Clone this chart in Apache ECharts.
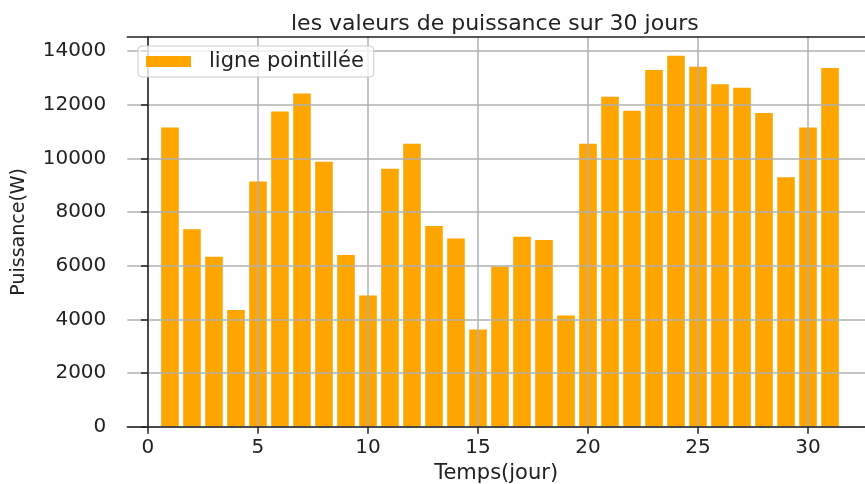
<!DOCTYPE html>
<html>
<head>
<meta charset="utf-8">
<script src="https://cdn.jsdelivr.net/npm/echarts@6/dist/echarts.min.js"></script>
<style>
  html, body { margin: 0; padding: 0; background: #fff; }
  #chart { width: 865px; height: 484px; }
</style>
</head>
<body>
<div id="chart"></div>
<script>
// jours 1..31 et puissance (W)
var jours = [1, 2, 3, 4, 5, 6, 7, 8, 9, 10, 11, 12, 13, 14, 15, 16,
             17, 18, 19, 20, 21, 22, 23, 24, 25, 26, 27, 28, 29, 30, 31];
var puissance = [11160, 7360, 6340, 4350, 9140, 11750, 12420, 9880, 6400, 4890,
                 9620, 10550, 7480, 7020, 3620, 5970, 7080, 6960, 4150, 10550,
                 12300, 11780, 13300, 13830, 13420, 12770, 12640, 11700, 9300,
                 11160, 13370];
var xTicks = [0, 5, 10, 15, 20, 25, 30];
var yTicks = [0, 2000, 4000, 6000, 8000, 10000, 12000, 14000];

var font = 'DejaVu Sans';
var ink = '#222';
var xMin = -0.94, xMax = 32.59;   // la figure est coupée à droite

var chart = echarts.init(document.getElementById('chart'));

var option = {
    animation: false,
    backgroundColor: '#fff',
    title: {
        text: 'les valeurs de puissance sur 30 jours',
        left: 286,
        top: 8,
        textStyle: { fontFamily: font, fontSize: 22, fontWeight: 'normal', color: ink }
    },
    legend: {
        left: 138,
        top: 46,
        padding: [5, 10, 5, 8],
        icon: 'rect',
        itemWidth: 45,
        itemHeight: 11,
        backgroundColor: 'rgba(255,255,255,0.8)',
        borderColor: '#cccccc',
        borderWidth: 1,
        borderRadius: 4,
        textStyle: { fontFamily: font, fontSize: 21, color: ink, padding: [0, 0, 0, 13] },
        data: ['ligne pointillée']
    },
    grid: {
        left: 127.3,
        right: 0,
        top: 37,
        bottom: 57.3,
        outerBoundsMode: 'none'
    },
    xAxis: [{
        type: 'value',
        min: xMin,
        max: xMax,
        z: 3,
        name: 'Temps(jour)',
        nameLocation: 'middle',
        nameGap: 35,
        nameTextStyle: { fontFamily: font, fontSize: 21, color: ink },
        axisLine: { show: true, lineStyle: { color: ink, width: 1.5 } },
        axisTick: { show: true, length: 7, customValues: xTicks, lineStyle: { color: ink, width: 1.5 } },
        axisLabel: { customValues: xTicks, margin: 11, fontFamily: font, fontSize: 20, color: ink },
        splitLine: { show: true, lineStyle: { color: '#b0b0b0', width: 1.5 } }
    }, {
        // bord supérieur du cadre
        type: 'value',
        position: 'top',
        min: xMin,
        max: xMax,
        z: 3,
        axisLine: { show: true, onZero: false, lineStyle: { color: ink, width: 1.5 } },
        axisTick: { show: false },
        axisLabel: { show: false },
        splitLine: { show: false }
    }],
    yAxis: {
        type: 'value',
        min: 0,
        max: 14530,
        interval: 2000,
        z: 3,
        name: 'Puissance(W)',
        nameLocation: 'middle',
        nameGap: 99,
        nameTextStyle: { fontFamily: font, fontSize: 19, color: ink },
        axisLine: { show: true, lineStyle: { color: ink, width: 1.5 } },
        axisTick: { show: true, length: 7, customValues: yTicks, lineStyle: { color: ink, width: 1.5 } },
        axisLabel: {
            customValues: yTicks, margin: 21, fontFamily: font, fontSize: 20, color: ink,
            formatter: function (v) { return String(v); }
        },
        splitLine: { show: true, lineStyle: { color: '#b0b0b0', width: 1.5 } }
    },
    series: [{
        name: 'ligne pointillée',
        type: 'bar',
        barWidth: '80%',
        itemStyle: { color: '#FFA500' },
        data: jours.map(function (j, i) { return [j, puissance[i]]; })
    }]
};

chart.setOption(option);
</script>
</body>
</html>
